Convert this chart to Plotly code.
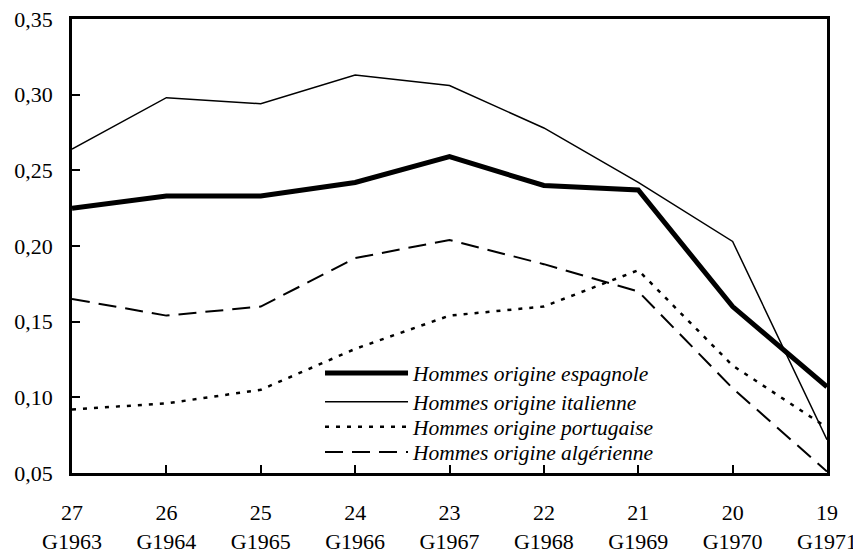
import plotly.graph_objects as go

ages = ["27", "26", "25", "24", "23", "22", "21", "20", "19"]
generations = ["G1963", "G1964", "G1965", "G1966", "G1967", "G1968", "G1969", "G1970", "G1971"]
categories = [f"{a}<br>{g}" for a, g in zip(ages, generations)]

espagnole = [0.225, 0.233, 0.233, 0.242, 0.259, 0.240, 0.237, 0.160, 0.107]
italienne = [0.264, 0.298, 0.294, 0.313, 0.306, 0.278, 0.242, 0.203, 0.072]
portugaise = [0.092, 0.096, 0.105, 0.132, 0.154, 0.160, 0.184, 0.121, 0.080]
algerienne = [0.165, 0.154, 0.160, 0.192, 0.204, 0.188, 0.170, 0.106, 0.051]

series = [
    ("Hommes origine espagnole", espagnole, dict(color="black", width=5)),
    ("Hommes origine italienne", italienne, dict(color="black", width=1.5)),
    ("Hommes origine portugaise", portugaise, dict(color="black", width=2.5, dash="4px,7px")),
    ("Hommes origine algérienne", algerienne, dict(color="black", width=2, dash="18px,9px")),
]
legend_ids = ["legend", "legend2", "legend3", "legend4"]
legend_rows = [0.220, 0.157, 0.102, 0.046]

FONT = "Liberation Serif"

fig = go.Figure()
for (name, vals, line), lid in zip(series, legend_ids):
    fig.add_trace(go.Scatter(x=categories, y=vals, mode="lines", name=name, line=line,
                             legend=lid, showlegend=True))

# page body has an 8px margin: shrink the figure so the plot area lands where the reference has it
fig.update_layout(
    width=853, height=545,
    margin=dict(l=64, r=34, t=11, b=80),
    paper_bgcolor="white", plot_bgcolor="white",
    font=dict(family=FONT, size=22, color="black"),
    showlegend=True,
)
leg_common = dict(
    x=0.3285, xanchor="left", yanchor="middle",
    bgcolor="rgba(0,0,0,0)", borderwidth=0,
    font=dict(size=21.5, family=FONT, style="italic"),
    itemwidth=83, visible=True,
)
fig.update_layout({lid: dict(leg_common, y=yy) for lid, yy in zip(legend_ids, legend_rows)})

fig.update_xaxes(
    type="category", range=[0, 8], automargin=False, ticklabeloverflow="allow",
    showline=True, linecolor="black", linewidth=2.5, mirror=True,
    ticks="inside", ticklen=8, tickwidth=2, tickcolor="black",
    showgrid=False, zeroline=False, ticklabelstandoff=18,
)
fig.update_yaxes(
    range=[0.05, 0.35], automargin=False, ticklabeloverflow="allow",
    tickvals=[0.05, 0.10, 0.15, 0.20, 0.25, 0.30, 0.35],
    ticktext=["0,05", "0,10", "0,15", "0,20", "0,25", "0,30", "0,35"],
    showline=True, linecolor="black", linewidth=2.5, mirror=True,
    ticks="inside", ticklen=8, tickwidth=2, tickcolor="black",
    showgrid=False, zeroline=False, ticklabelstandoff=12,
)

fig.write_html("out.html")
